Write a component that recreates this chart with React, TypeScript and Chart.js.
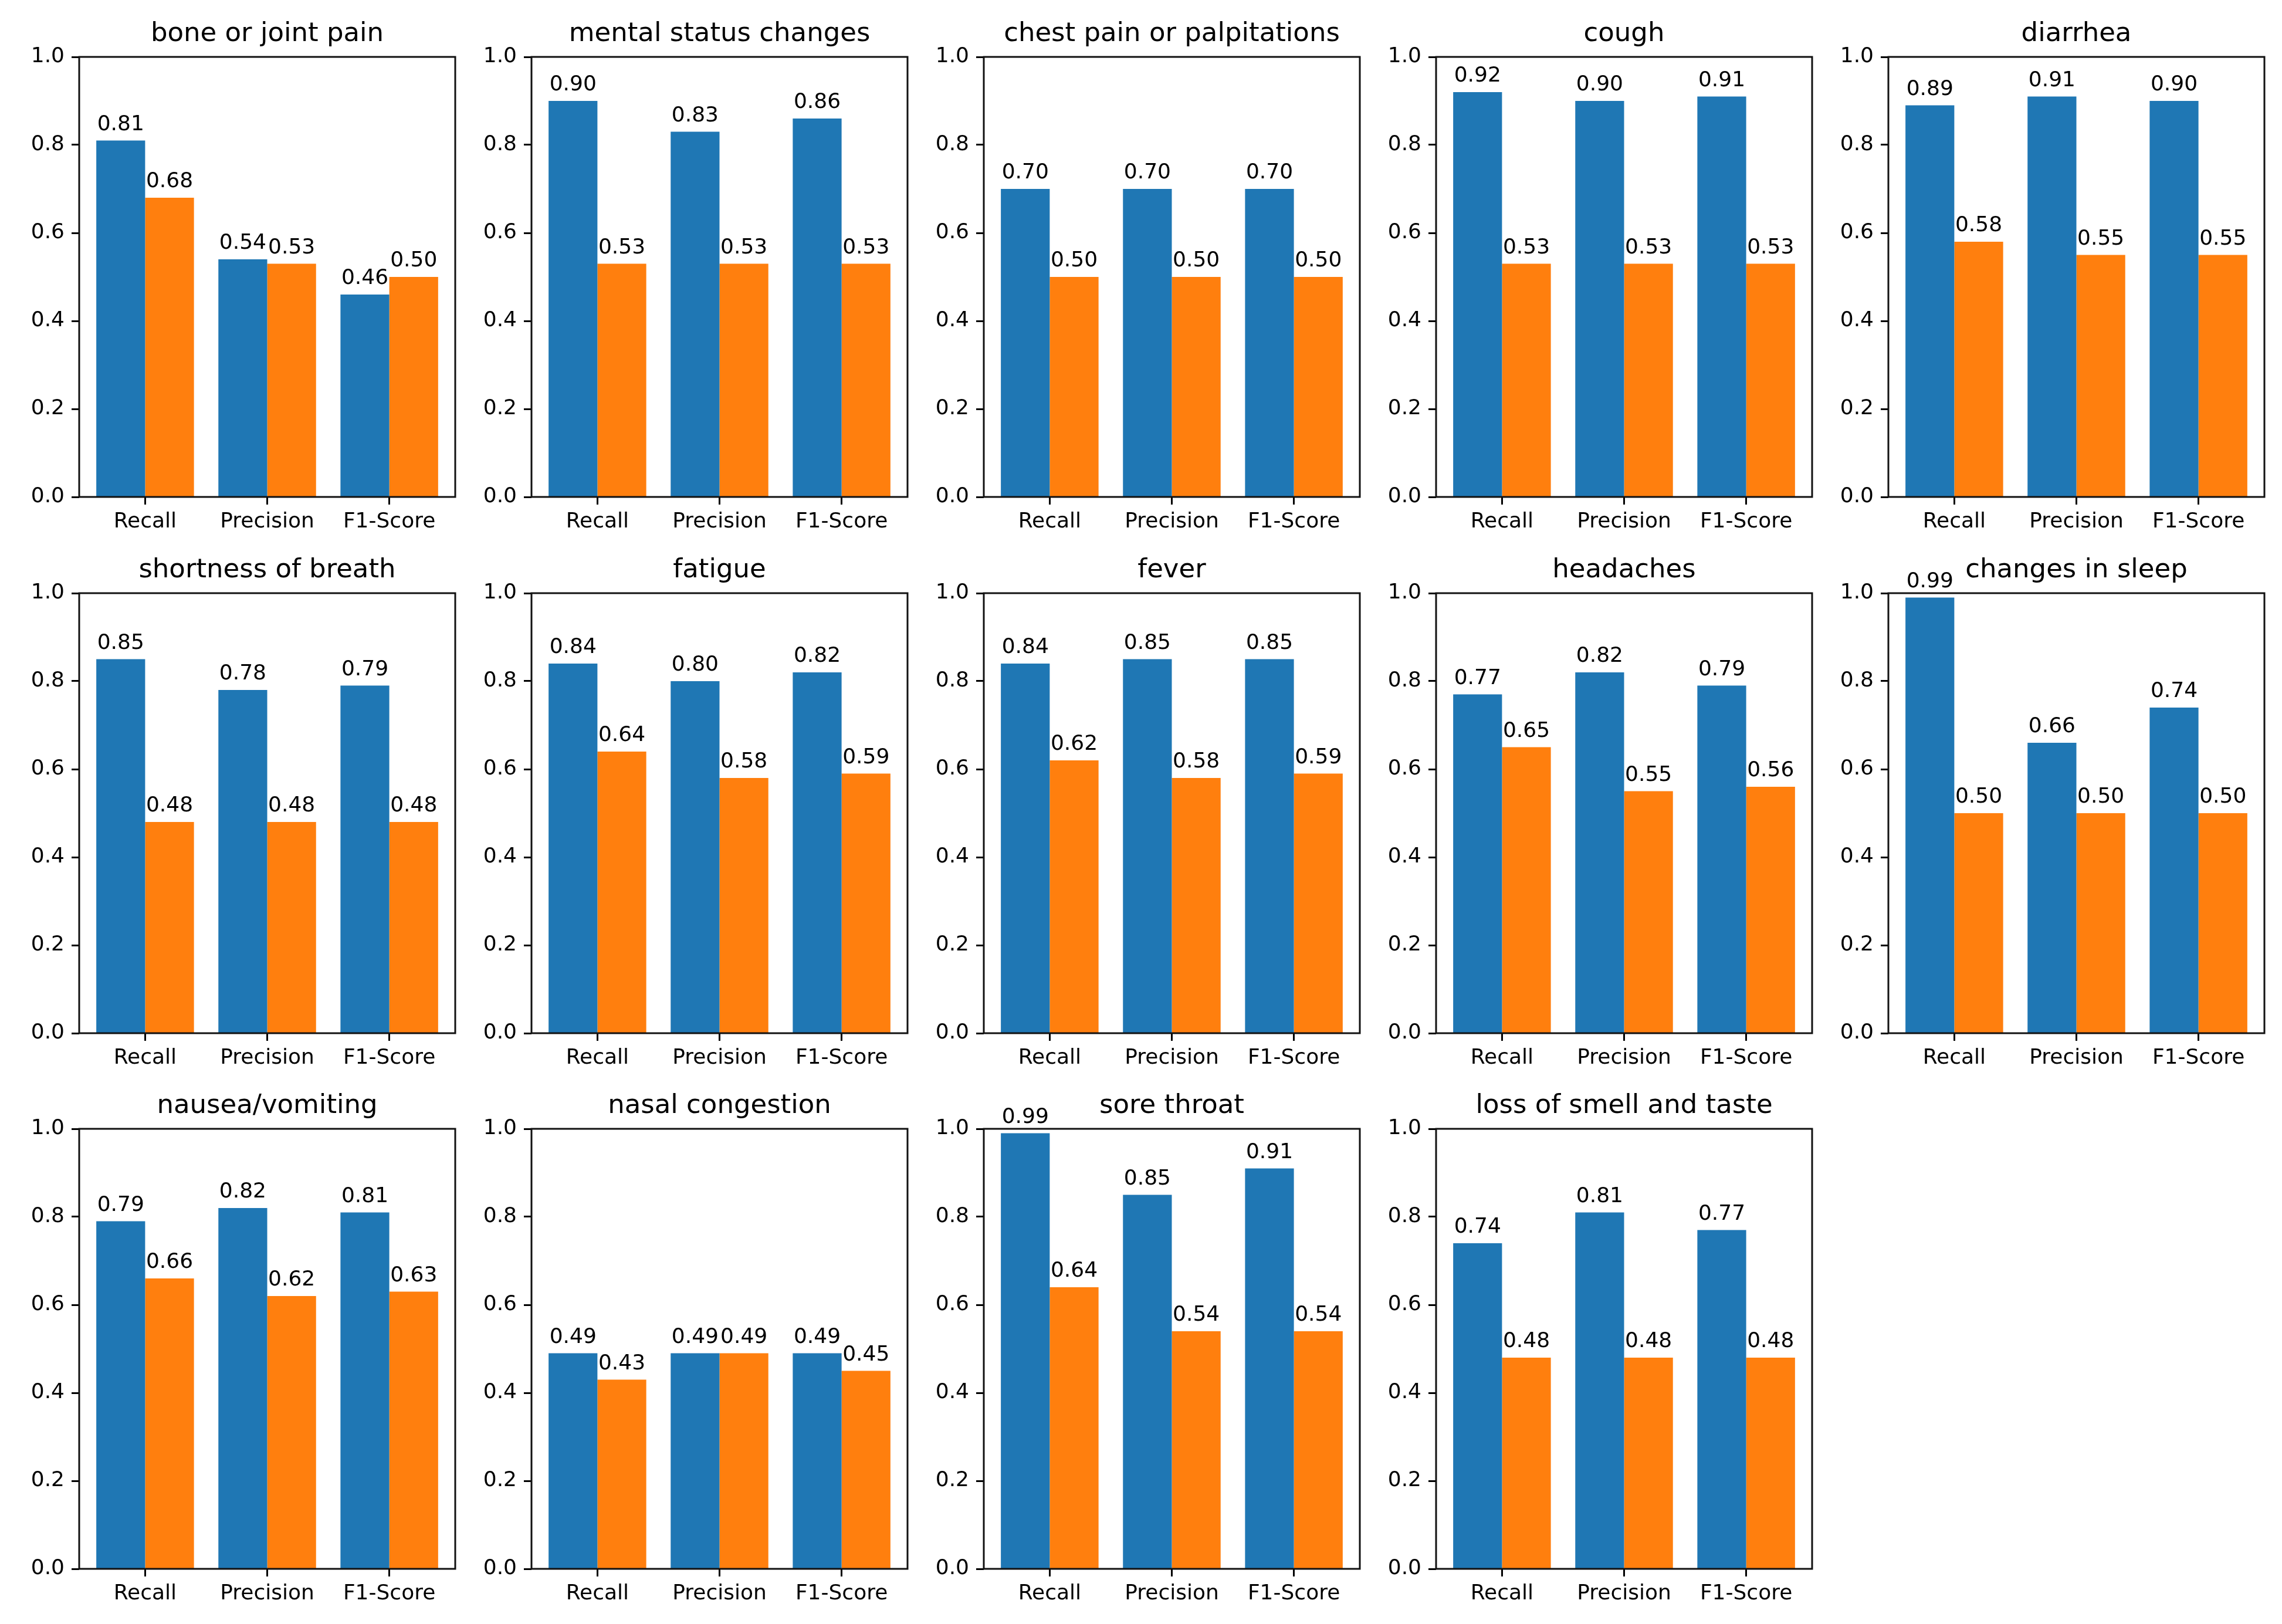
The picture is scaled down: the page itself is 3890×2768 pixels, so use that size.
import { useEffect, useRef } from "react"
import { Chart, registerables } from "chart.js"

Chart.register(...registerables)

// subplot titles, in grid order (5 per row)
const symptoms = [
  "bone or joint pain",
  "mental status changes",
  "chest pain or palpitations",
  "cough",
  "diarrhea",
  "shortness of breath",
  "fatigue",
  "fever",
  "headaches",
  "changes in sleep",
  "nausea/vomiting",
  "nasal congestion",
  "sore throat",
  "loss of smell and taste",
]

const metrics = ["Recall", "Precision", "F1-Score"]

// blue bars
const blueScores = [
  [0.81, 0.54, 0.46],
  [0.9, 0.83, 0.86],
  [0.7, 0.7, 0.7],
  [0.92, 0.9, 0.91],
  [0.89, 0.91, 0.9],
  [0.85, 0.78, 0.79],
  [0.84, 0.8, 0.82],
  [0.84, 0.85, 0.85],
  [0.77, 0.82, 0.79],
  [0.99, 0.66, 0.74],
  [0.79, 0.82, 0.81],
  [0.49, 0.49, 0.49],
  [0.99, 0.85, 0.91],
  [0.74, 0.81, 0.77],
]

// orange bars
const orangeScores = [
  [0.68, 0.53, 0.5],
  [0.53, 0.53, 0.53],
  [0.5, 0.5, 0.5],
  [0.53, 0.53, 0.53],
  [0.58, 0.55, 0.55],
  [0.48, 0.48, 0.48],
  [0.64, 0.58, 0.59],
  [0.62, 0.58, 0.59],
  [0.65, 0.55, 0.56],
  [0.5, 0.5, 0.5],
  [0.66, 0.62, 0.63],
  [0.43, 0.49, 0.45],
  [0.64, 0.54, 0.54],
  [0.48, 0.48, 0.48],
]

const yTicks = [0, 0.2, 0.4, 0.6, 0.8, 1.0]

const BLUE = "#1f77b4"
const ORANGE = "#ff7f0e"
const FONT = "'DejaVu Sans', sans-serif"

// geometry of the axes boxes (page pixels)
const AX_LEFT0 = 135
const AX_TOP0 = 97
const COL_STEP = 771
const ROW_STEP = 913.5
const AX_W = 641
const AX_H = 750
const PAD_L = 130
const PAD_T = 95
const PAD_R = 12
const PAD_B = 85

const framePlugin = {
  id: "frame",
  afterDatasetsDraw(chart: any) {
    const { ctx, chartArea } = chart
    const title = chart.options.plugins.frame.title as string
    ctx.save()
    // value labels
    ctx.fillStyle = "#000"
    ctx.font = `36px ${FONT}`
    ctx.textAlign = "center"
    ctx.textBaseline = "alphabetic"
    chart.data.datasets.forEach((ds: any, di: number) => {
      const meta = chart.getDatasetMeta(di)
      meta.data.forEach((bar: any, i: number) => {
        ctx.fillText(ds.data[i].y.toFixed(2), bar.x, bar.y - 18)
      })
    })
    // axes frame
    ctx.strokeStyle = "#111"
    ctx.lineWidth = 3
    ctx.strokeRect(
      chartArea.left,
      chartArea.top,
      chartArea.right - chartArea.left,
      chartArea.bottom - chartArea.top
    )
    // title
    ctx.font = `45px ${FONT}`
    ctx.fillText(title, (chartArea.left + chartArea.right) / 2, chartArea.top - 27)
    ctx.restore()
  },
}

function Subplot({ index }: { index: number }) {
  const canvasRef = useRef<HTMLCanvasElement>(null)
  const chartRef = useRef<Chart | null>(null)

  useEffect(() => {
    const ctx = canvasRef.current?.getContext("2d")
    if (!ctx) return
    if (chartRef.current) chartRef.current.destroy()

    const tickFont = { family: FONT, size: 36 }

    chartRef.current = new Chart(ctx, {
      type: "bar",
      data: {
        datasets: [
          {
            data: blueScores[index].map((v, i) => ({ x: i, y: v })),
            backgroundColor: BLUE,
            borderWidth: 0,
            categoryPercentage: 0.8,
            barPercentage: 1.0,
          },
          {
            data: orangeScores[index].map((v, i) => ({ x: i, y: v })),
            backgroundColor: ORANGE,
            borderWidth: 0,
            categoryPercentage: 0.8,
            barPercentage: 1.0,
          },
        ],
      },
      options: {
        animation: false,
        responsive: false,
        devicePixelRatio: 1,
        layout: { padding: { top: PAD_T, right: PAD_R, left: 0, bottom: 0 } },
        plugins: {
          legend: { display: false },
          tooltip: { enabled: false },
          frame: { title: symptoms[index] },
        } as any,
        scales: {
          x: {
            type: "linear",
            min: -0.54,
            max: 2.54,
            offset: false,
            afterBuildTicks: (s: any) => {
              s.ticks = metrics.map((_, i) => ({ value: i }))
            },
            afterFit: (s: any) => {
              s.height = PAD_B
            },
            ticks: {
              callback: (v: any) => metrics[v],
              font: tickFont,
              color: "#000",
              padding: 8,
              maxRotation: 0,
              autoSkip: false,
            },
            grid: {
              offset: false,
              drawOnChartArea: false,
              tickLength: 13,
              tickWidth: 3,
              tickColor: "#000",
            },
            border: { display: false },
          },
          y: {
            min: 0,
            max: 1,
            afterBuildTicks: (s: any) => {
              s.ticks = yTicks.map((v) => ({ value: v }))
            },
            afterFit: (s: any) => {
              s.width = PAD_L
            },
            ticks: {
              callback: (v: any) => Number(v).toFixed(1),
              font: tickFont,
              color: "#000",
              padding: 12,
            },
            grid: {
              drawOnChartArea: false,
              tickLength: 13,
              tickWidth: 3,
              tickColor: "#000",
            },
            border: { display: false },
          },
        },
      } as any,
      plugins: [framePlugin],
    })

    return () => {
      if (chartRef.current) {
        chartRef.current.destroy()
        chartRef.current = null
      }
    }
  }, [index])

  const col = index % 5
  const row = Math.floor(index / 5)
  const w = PAD_L + AX_W + PAD_R
  const h = PAD_T + AX_H + PAD_B

  return (
    <canvas
      ref={canvasRef}
      width={w}
      height={h}
      style={{
        position: "absolute",
        left: Math.round(AX_LEFT0 + col * COL_STEP - PAD_L),
        top: Math.round(AX_TOP0 + row * ROW_STEP - PAD_T),
        width: w,
        height: h,
        display: "block",
      }}
    />
  )
}

export default function App() {
  return (
    <div
      style={{
        position: "absolute",
        left: 0,
        top: 0,
        width: 3890,
        height: 2768,
        background: "#fff",
        overflow: "hidden",
      }}
    >
      {symptoms.map((_, i) => (
        <Subplot key={i} index={i} />
      ))}
    </div>
  )
}
